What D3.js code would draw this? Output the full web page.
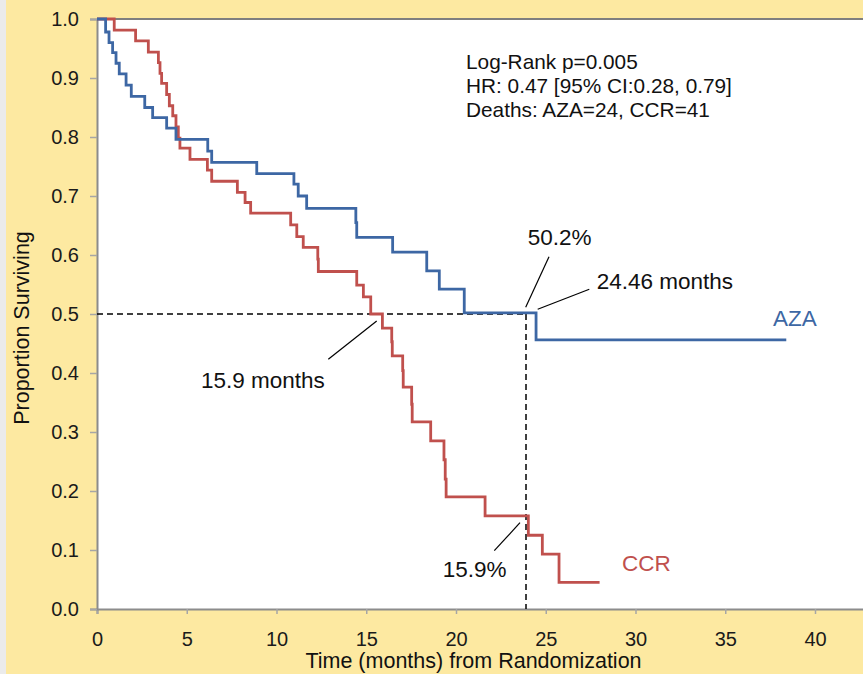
<!DOCTYPE html>
<html>
<head>
<meta charset="utf-8">
<script src="https://cdn.jsdelivr.net/npm/d3@7"></script>
<style>
  body { margin: 0; background: #fde9a1; overflow: hidden; }
  text { font-family: "Liberation Sans", Arial, sans-serif; }
</style>
</head>
<body>
<div class="km-div"></div>
<script>
// survival curves (months, proportion surviving)
const azaTimes = [0, 0.48, 0.67, 0.87, 1.06, 1.24, 1.62, 1.91, 2.66, 3.10, 3.88, 4.40, 6.17, 6.39, 8.90, 10.97, 11.21, 11.68, 14.42, 14.47, 16.47, 18.37, 19.07, 20.46, 24.46, 38.4];
const azaSurv  = [1.0, 0.978, 0.960, 0.943, 0.925, 0.907, 0.888, 0.869, 0.850, 0.833, 0.815, 0.796, 0.776, 0.757, 0.738, 0.720, 0.700, 0.679, 0.655, 0.630, 0.605, 0.573, 0.542, 0.502, 0.456, 0.456];
const ccrTimes = [0, 0.96, 2.15, 2.86, 3.42, 3.51, 3.60, 3.88, 4.03, 4.22, 4.40, 4.53, 4.62, 5.18, 6.15, 6.39, 7.82, 8.25, 8.56, 10.79, 11.13, 11.49, 12.30, 12.33, 14.47, 14.84, 15.25, 15.90, 16.42, 16.45, 17.03, 17.06, 17.53, 17.56, 18.59, 19.33, 19.40, 19.45, 21.62, 24.03, 24.81, 25.74, 28.0];
const ccrSurv  = [1.0, 0.981, 0.963, 0.944, 0.926, 0.908, 0.891, 0.872, 0.853, 0.836, 0.817, 0.798, 0.781, 0.762, 0.744, 0.725, 0.706, 0.689, 0.671, 0.651, 0.631, 0.613, 0.593, 0.572, 0.549, 0.529, 0.500, 0.476, 0.453, 0.429, 0.404, 0.376, 0.347, 0.317, 0.285, 0.253, 0.220, 0.190, 0.158, 0.125, 0.093, 0.045, 0.045];

const xTicks = [0, 5, 10, 15, 20, 25, 30, 35, 40];
const yTicks = [0, 0.1, 0.2, 0.3, 0.4, 0.5, 0.6, 0.7, 0.8, 0.9, 1.0];

const statsLines = ["Log-Rank p=0.005", "HR: 0.47 [95% CI:0.28, 0.79]", "Deaths: AZA=24, CCR=41"];
const landmark = 23.9;

const azaColor = "#3d67a4", ccrColor = "#c0504d";

const W = 863, H = 674;
const margin = {top: 19, left: 97};
const width = 45 * 17.95, height = 590;

const svg = d3.select(".km-div")
  .append("svg")
  .attr("width", W)
  .attr("height", H);

// grey strip at the far left
svg.append("rect").attr("x", 0).attr("y", 0).attr("width", 6).attr("height", H).attr("fill", "#ebebeb");

const g = svg.append("g")
  .attr("transform", "translate(" + margin.left + "," + margin.top + ")");

g.append("rect")
  .attr("width", width).attr("height", height)
  .attr("fill", "#fff");
g.append("line")
  .attr("x1", 0).attr("x2", width).attr("y1", 0).attr("y2", 0)
  .attr("stroke", "#7f7f7f").attr("stroke-width", 2);

const x = d3.scaleLinear().domain([0, 45]).range([0, width]);
const y = d3.scaleLinear().domain([0, 1]).range([height, 0]);

const xAxis = g.append("g")
  .attr("transform", "translate(0," + height + ")")
  .call(d3.axisBottom(x).tickValues(xTicks).tickSize(5).tickPadding(17.5));
const yAxis = g.append("g")
  .call(d3.axisLeft(y).tickValues(yTicks).tickFormat(d3.format(".1f")).tickSize(7).tickPadding(11));

[xAxis, yAxis].forEach(a => {
  a.attr("font-size", 20);
  a.selectAll("text").style("font-size", "20px").attr("fill", "#1a1a1a");
  a.select(".domain").attr("stroke", "#8c8c8c").attr("stroke-width", 2);
  a.selectAll(".tick line").attr("stroke", "#a6a6a6").attr("stroke-width", 1.5);
});

// dashed guide lines
g.append("line")
  .attr("x1", x(0)).attr("x2", x(landmark))
  .attr("y1", y(0.5)).attr("y2", y(0.5))
  .attr("stroke", "#000").attr("stroke-width", 1.5).attr("stroke-dasharray", "6,4");
g.append("line")
  .attr("x1", x(landmark)).attr("x2", x(landmark))
  .attr("y1", y(0.5)).attr("y2", y(0))
  .attr("stroke", "#000").attr("stroke-width", 1.5).attr("stroke-dasharray", "6,4");

const line = d3.line()
  .x(d => x(d[0]))
  .y(d => y(d[1]))
  .curve(d3.curveStepAfter);

const series = [
  {name: "CCR", times: ccrTimes, surv: ccrSurv, color: ccrColor},
  {name: "AZA", times: azaTimes, surv: azaSurv, color: azaColor}
];

g.selectAll(".km")
  .data(series)
  .enter()
  .append("path")
  .attr("class", "km")
  .attr("fill", "none")
  .attr("stroke", d => d.color)
  .attr("stroke-width", 2.8)
  .attr("d", d => line(d.times.map((t, i) => [t, d.surv[i]])));

// series labels
g.append("text").attr("x", x(37.66)).attr("y", 307)
  .attr("fill", azaColor).style("font-size", "22.5px").text("AZA");
g.append("text").attr("x", x(29.25)).attr("y", 552)
  .attr("fill", ccrColor).style("font-size", "22.5px").text("CCR");

// stats block
g.append("g").selectAll("text")
  .data(statsLines)
  .enter()
  .append("text")
  .attr("x", 369)
  .attr("y", (d, i) => 50 + i * 24)
  .style("font-size", "20.8px")
  .attr("fill", "#111")
  .text(d => d);

// callouts
const callouts = [
  {text: "50.2%", tx: 430.7, ty: 226, lx1: 452, ly1: 237.7, lx2: 428.7, ly2: 288.3},
  {text: "24.46 months", tx: 499.7, ty: 270, lx1: 492.3, ly1: 270.3, lx2: 440.7, ly2: 290.3},
  {text: "15.9 months", tx: 104, ty: 369, lx1: 231.3, ly1: 340.3, lx2: 279.7, ly2: 302},
  {text: "15.9%", tx: 345.7, ty: 557.7, lx1: 397.3, ly1: 531.7, lx2: 423, ly2: 503.7}
];
callouts.forEach(c => {
  g.append("line")
    .attr("x1", c.lx1).attr("y1", c.ly1).attr("x2", c.lx2).attr("y2", c.ly2)
    .attr("stroke", "#000").attr("stroke-width", 1.2);
  g.append("text").attr("x", c.tx).attr("y", c.ty)
    .style("font-size", "22.5px").attr("fill", "#111").text(c.text);
});

// axis titles
svg.append("text")
  .attr("x", 473.5).attr("y", 668)
  .attr("text-anchor", "middle")
  .style("font-size", "21.5px").attr("fill", "#111")
  .text("Time (months) from Randomization");
svg.append("text")
  .attr("transform", "translate(29,328)rotate(-90)")
  .attr("text-anchor", "middle")
  .style("font-size", "21.5px").attr("fill", "#111")
  .text("Proportion Surviving");
</script>
</body>
</html>
